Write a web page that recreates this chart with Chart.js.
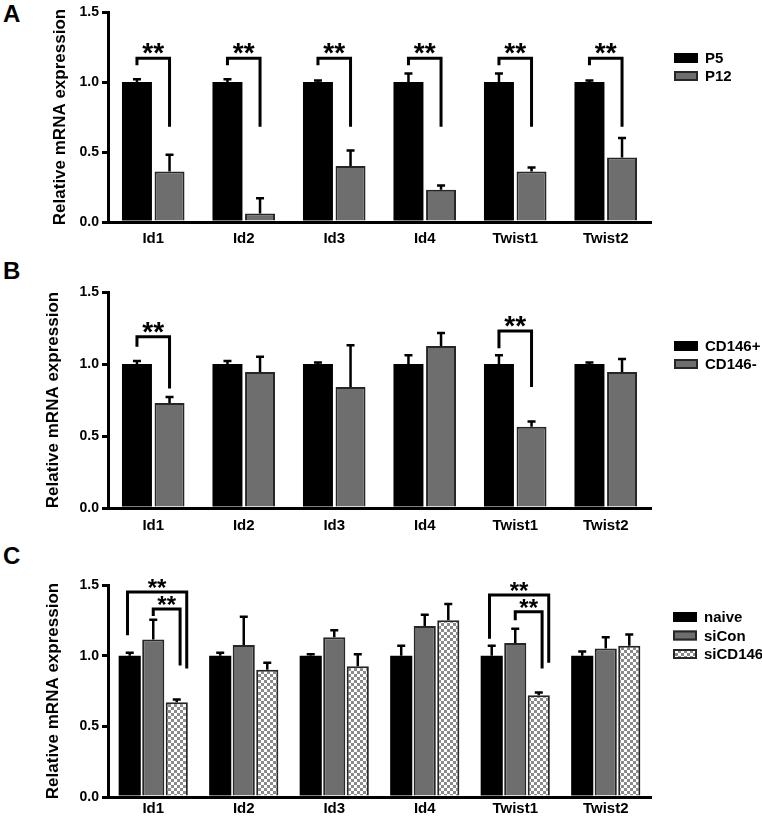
<!DOCTYPE html>
<html><head><meta charset="utf-8">
<script src="https://cdn.jsdelivr.net/npm/chart.js@4.4.0/dist/chart.umd.min.js"></script>
<style>
body{margin:0;background:#fff;width:762px;height:819px;position:relative;overflow:hidden;font-family:"Liberation Sans",Arial,sans-serif;}
canvas{position:absolute;left:0;}
.lbl{position:absolute;font-weight:bold;font-size:24px;line-height:24px;left:3px;color:#000;}
</style></head><body>
<div class="lbl" style="top:2px">A</div>
<div class="lbl" style="top:259px">B</div>
<div class="lbl" style="top:544px">C</div>
<canvas id="ca" width="762" height="262" style="top:0px"></canvas>
<canvas id="cb" width="762" height="286" style="top:262px"></canvas>
<canvas id="cc" width="762" height="271" style="top:548px"></canvas>
<script>
// ---------- data ----------
const categories = ['Id1', 'Id2', 'Id3', 'Id4', 'Twist1', 'Twist2'];
const yTickValues = [0, 0.5, 1.0, 1.5];
const yTitle = 'Relative mRNA expression';

// Panel A
const labelsA = ['P5', 'P12'];
const p5 = [1.00, 1.00, 1.00, 1.00, 1.00, 1.00];
const p5Err = [1.02, 1.02, 1.01, 1.06, 1.06, 1.01];
const p12 = [0.36, 0.06, 0.40, 0.23, 0.36, 0.46];
const p12Err = [0.48, 0.17, 0.51, 0.26, 0.39, 0.60];

// Panel B
const labelsB = ['CD146+', 'CD146-'];
const cdPos = [1.00, 1.00, 1.00, 1.00, 1.00, 1.00];
const cdPosErr = [1.02, 1.02, 1.01, 1.06, 1.06, 1.01];
const cdNeg = [0.73, 0.945, 0.84, 1.125, 0.565, 0.945];
const cdNegErr = [0.77, 1.05, 1.13, 1.215, 0.60, 1.035];

// Panel C
const labelsC = ['naive', 'siCon', 'siCD146'];
const naive = [1.00, 1.00, 1.00, 1.00, 1.00, 1.00];
const naiveErr = [1.02, 1.02, 1.01, 1.07, 1.07, 1.03];
const siCon = [1.115, 1.075, 1.13, 1.21, 1.09, 1.05];
const siConErr = [1.255, 1.275, 1.18, 1.29, 1.19, 1.13];
const siCD146 = [0.67, 0.90, 0.925, 1.25, 0.72, 1.07];
const siCD146Err = [0.69, 0.95, 1.01, 1.365, 0.74, 1.15];

// significance brackets: [category, fromDataset, toDataset, barLevel, leftLegEnd, rightLegEnd]
const sigA = [[0,0,1,1.17,1.12,0.68],[1,0,1,1.17,1.12,0.68],[2,0,1,1.17,1.12,0.68],
              [3,0,1,1.17,1.12,0.68],[4,0,1,1.17,1.12,0.68],[5,0,1,1.17,1.12,0.68]];
const sigB = [[0,0,1,1.19,1.12,0.83],[4,0,1,1.23,1.11,0.84]];
const sigC = [[0,0,2,1.45,1.145,0.91],[0,1,2,1.33,1.28,0.93],
              [4,0,2,1.43,1.12,0.95],[4,1,2,1.31,1.25,0.91]];
const sigText = '**';

// ---------- styling / plugins ----------
Chart.defaults.font.family = '"Liberation Sans", Arial, sans-serif';
Chart.defaults.font.weight = 'bold';
Chart.defaults.color = '#000';

function checker() {
  const c = document.createElement('canvas');
  c.width = 6; c.height = 6;
  const g = c.getContext('2d');
  g.fillStyle = '#ffffff'; g.fillRect(0, 0, 6, 6);
  g.fillStyle = '#8a8a8a'; g.fillRect(0, 0, 3, 3); g.fillRect(3, 3, 3, 3);
  return g.createPattern(c, 'repeat');
}
const checkerFill = checker();
const BLACK = {backgroundColor: '#000', borderColor: '#000', borderWidth: 0};
const GRAY = {backgroundColor: '#6e6e6e', borderColor: '#262626', borderWidth: 2};
const CHECK = {backgroundColor: checkerFill, borderColor: '#262626', borderWidth: 2};

const errPlugin = {
  id: 'errbars',
  afterDatasetsDraw(chart) {
    const ctx = chart.ctx, ys = chart.scales.y;
    chart.data.datasets.forEach((ds, i) => {
      if (!ds.err) return;
      chart.getDatasetMeta(i).data.forEach((bar, j) => {
        const x = bar.x, y0 = ys.getPixelForValue(ds.data[j]), y1 = ys.getPixelForValue(ds.err[j]);
        ctx.save();
        ctx.strokeStyle = '#000'; ctx.lineWidth = 2.5;
        ctx.beginPath();
        ctx.moveTo(x, y0); ctx.lineTo(x, y1);
        ctx.moveTo(x - 4, y1); ctx.lineTo(x + 4, y1);
        ctx.stroke();
        ctx.restore();
      });
    });
  }
};

const sigPlugin = {
  id: 'sig',
  afterDatasetsDraw(chart, args, opts) {
    if (!opts.items) return;
    const ctx = chart.ctx, ys = chart.scales.y;
    opts.items.forEach((it, k) => {
      const [cat, a, b, lvl, la, lb] = it;
      const ba = chart.getDatasetMeta(a).data[cat], bb = chart.getDatasetMeta(b).data[cat];
      const sh = (opts.shift && opts.shift[k]) || [0, 0];
      const xa = ba.x + sh[0] * ba.width, xb = bb.x + sh[1] * bb.width;
      const yl = ys.getPixelForValue(lvl);
      ctx.save();
      ctx.strokeStyle = '#000'; ctx.lineWidth = 3; ctx.lineJoin = 'miter';
      ctx.beginPath();
      ctx.moveTo(xa, ys.getPixelForValue(la));
      ctx.lineTo(xa, yl); ctx.lineTo(xb, yl);
      ctx.lineTo(xb, ys.getPixelForValue(lb));
      ctx.stroke();
      ctx.fillStyle = '#000';
      ctx.font = 'bold ' + opts.starSize + 'px "Liberation Sans", Arial, sans-serif';
      ctx.textAlign = 'center'; ctx.textBaseline = 'alphabetic';
      ctx.fillText(sigText, (xa + xb) / 2, yl + opts.starDrop);
      ctx.restore();
    });
  }
};

const legendPlugin = {
  id: 'boxLegend',
  afterDraw(chart, args, opts) {
    const ctx = chart.ctx;
    chart.data.datasets.forEach((ds, i) => {
      const cy = opts.y + i * opts.gap;
      ctx.save();
      ctx.fillStyle = ds.backgroundColor;
      ctx.fillRect(opts.x, cy - 5, 24, 10);
      ctx.strokeStyle = ds.borderWidth ? ds.borderColor : '#000';
      ctx.lineWidth = 2;
      ctx.strokeRect(opts.x + 1, cy - 4, 22, 8);
      ctx.fillStyle = '#000';
      ctx.font = 'bold 15px "Liberation Sans", Arial, sans-serif';
      ctx.textAlign = 'left'; ctx.textBaseline = 'middle';
      ctx.fillText(ds.label, opts.x + 31, cy + 1);
      ctx.restore();
    });
  }
};

function makeChart(id, p) {
  return new Chart(document.getElementById(id), {
    type: 'bar',
    data: {labels: categories, datasets: p.datasets.map(d => Object.assign({
      categoryPercentage: p.cp, barPercentage: p.bp, borderSkipped: 'bottom'}, d))},
    options: {
      responsive: false, animation: false, devicePixelRatio: 1,
      layout: {padding: {top: p.top, right: 111, left: 0, bottom: 0}},
      plugins: {
        legend: {display: false}, tooltip: {enabled: false},
        sig: {items: p.sig, shift: p.shift, starSize: p.starSize, starDrop: p.starDrop},
        boxLegend: p.legend
      },
      scales: {
        x: {
          grid: {display: false, drawTicks: false},
          border: {display: true, color: '#000', width: 3},
          ticks: {padding: p.xPad, font: {size: 15, weight: 'bold'}, color: '#000'},
          afterFit(s) { s.height = p.xH; }
        },
        y: {
          min: 0, max: 1.5,
          afterBuildTicks(s) { s.ticks = yTickValues.map(v => ({value: v})); },
          ticks: {padding: 3, font: {size: 14, weight: 'bold'}, color: '#000',
                  callback: v => Number(v).toFixed(1)},
          grid: {display: true, drawOnChartArea: false, drawTicks: true, tickLength: 6,
                 color: '#000', lineWidth: 3},
          border: {display: true, color: '#000', width: 3},
          title: {display: true, text: yTitle, font: {size: 17, weight: 'bold'}, color: '#000',
                  padding: {top: p.titlePad, bottom: 0}},
          afterFit(s) { s.width = 108; }
        }
      }
    },
    plugins: [errPlugin, sigPlugin, legendPlugin]
  });
}

makeChart('ca', {
  top: 12, xH: 40, xPad: 8, titlePad: 50, cp: 0.72, bp: 0.92,
  datasets: [
    Object.assign({label: labelsA[0], data: p5, err: p5Err}, BLACK),
    Object.assign({label: labelsA[1], data: p12, err: p12Err}, GRAY)],
  sig: sigA, starSize: 28, starDrop: 4,
  legend: {x: 674, y: 58, gap: 18}
});
makeChart('cb', {
  top: 30, xH: 40, xPad: 9, titlePad: 43, cp: 0.72, bp: 0.92,
  datasets: [
    Object.assign({label: labelsB[0], data: cdPos, err: cdPosErr}, BLACK),
    Object.assign({label: labelsB[1], data: cdNeg, err: cdNegErr}, GRAY)],
  sig: sigB, starSize: 28, starDrop: 4,
  legend: {x: 674, y: 84, gap: 18}
});
makeChart('cc', {
  top: 37, xH: 22, xPad: 3, titlePad: 43, cp: 0.78, bp: 0.94,
  datasets: [
    Object.assign({label: labelsC[0], data: naive, err: naiveErr}, BLACK),
    Object.assign({label: labelsC[1], data: siCon, err: siConErr}, GRAY),
    Object.assign({label: labelsC[2], data: siCD146, err: siCD146Err}, CHECK)],
  sig: sigC, shift: [[-0.1, 0.45], [0, 0.15], [-0.1, 0.45], [0, 0.15]], starSize: 24, starDrop: 4,
  legend: {x: 673, y: 69, gap: 18.5}
});
</script>
</body></html>
